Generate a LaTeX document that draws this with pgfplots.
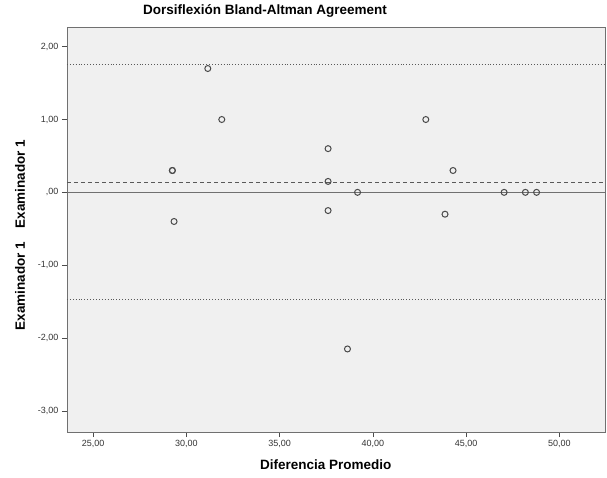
\documentclass[border=0pt]{standalone}
\usepackage{pgfplots}
\pgfplotsset{compat=1.18}
\usepackage{fontspec}
\setmainfont{Liberation Sans}
\definecolor{panel}{HTML}{F0F0F0}
\definecolor{axgray}{HTML}{707070}
\definecolor{ptgray}{HTML}{4A4A4A}

\begin{document}
\begin{tikzpicture}
\begin{axis}[
    scale only axis,
    width=538pt, height=405pt,
    xmin=23.6, xmax=52.45,
    ymin=-3.29, ymax=2.27,
    axis background/.style={fill=panel},
    axis line style={axgray, line width=0.8pt},
    tick align=outside, tick pos=left,
    major tick length=5pt,
    tick style={black!70, line width=0.6pt},
    xtick={25,30,35,40,45,50},
    xticklabels={{25,00},{30,00},{35,00},{40,00},{45,00},{50,00}},
    ytick={-3,-2,-1,0,1,2},
    yticklabels={{-3,00},{-2,00},{-1,00},{,00},{1,00},{2,00}},
    tick label style={font=\fontsize{9}{10}\selectfont, text=black!80},
    xlabel={Diferencia Promedio},
    ylabel={Examinador 1\quad Examinador 1},
    label style={font=\fontsize{13.5}{15}\selectfont\bfseries},
    xlabel style={at={(axis description cs:0.481,0)}, anchor=center, yshift=-33pt},
    ylabel style={at={(axis description cs:0,0.486)}, anchor=center, yshift=47pt},
    title={Dorsiflexión Bland-Altman Agreement},
    title style={font=\fontsize{13.5}{15}\selectfont\bfseries, at={(0.368,1)}, anchor=center, yshift=10.5pt},
]
% mean difference and limits of agreement
\addplot[axgray, line width=1pt] coordinates {(23.6,0) (52.45,0)};
\addplot[black!65, dashed, dash pattern=on 4pt off 3pt, line width=0.8pt] coordinates {(23.6,0.137) (52.45,0.137)};
\addplot[black!65, dotted, line width=0.9pt] coordinates {(23.6,1.756) (52.45,1.756)};
\addplot[black!65, dotted, line width=0.9pt] coordinates {(23.6,-1.472) (52.45,-1.472)};
% observations
\addplot[only marks, mark=o, mark size=3pt, ptgray, mark options={line width=1pt}] coordinates {
    (31.15,1.70) (31.90,1.00) (29.25,0.30) (29.25,0.30) (29.34,-0.40)
    (37.60,0.60) (37.60,0.15) (37.60,-0.25) (39.18,0.00) (38.64,-2.15)
    (42.84,1.00) (44.30,0.30) (43.87,-0.30)
    (47.04,0.00) (48.18,0.00) (48.78,0.00)
};
\end{axis}
\path ([shift={(-67pt,-45pt)}]current axis.south west) rectangle ([shift={(2pt,27pt)}]current axis.north east);
\end{tikzpicture}
\end{document}
